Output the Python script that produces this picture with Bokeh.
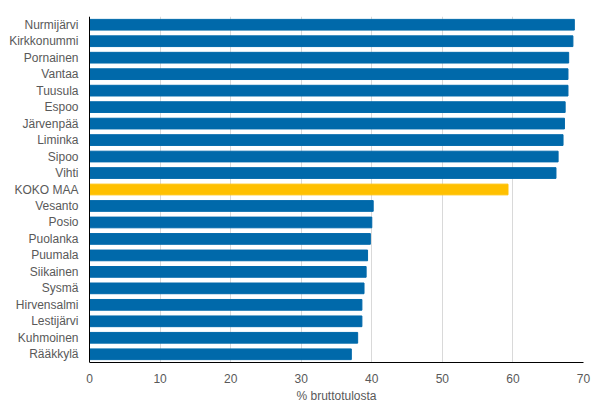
from bokeh.plotting import figure
from bokeh.models import ColumnDataSource, FactorRange, Range1d, LabelSet, Span, Title
from bokeh.core.properties import value
from bokeh.embed import file_html
from bokeh.resources import INLINE

categories = ["Nurmijärvi", "Kirkkonummi", "Pornainen", "Vantaa", "Tuusula", "Espoo",
              "Järvenpää", "Liminka", "Sipoo", "Vihti", "KOKO MAA", "Vesanto", "Posio",
              "Puolanka", "Puumala", "Siikainen", "Sysmä", "Hirvensalmi", "Lestijärvi",
              "Kuhmoinen", "Rääkkylä"]
values = [68.7, 68.5, 67.9, 67.8, 67.8, 67.4, 67.3, 67.1, 66.4, 66.1, 59.3, 40.2, 40.0,
          39.8, 39.4, 39.2, 38.9, 38.6, 38.6, 38.0, 37.1]
x_ticks = [0, 10, 20, 30, 40, 50, 60, 70]
x_label = "% bruttotulosta"

BLUE = "#0069aa"
YELLOW = "#ffc000"
colors = [YELLOW if c == "KOKO MAA" else BLUE for c in categories]

src = ColumnDataSource(dict(cat=categories, val=values, color=colors))

W, H = 605, 416
LEFT_PX, RIGHT_PX = 89, 22
XMAX = 70
scale = (W - RIGHT_PX - LEFT_PX) / XMAX
xmin = -LEFT_PX / scale

p = figure(width=W, height=H, output_backend="svg", toolbar_location=None,
           y_range=FactorRange(*reversed(categories), range_padding=0),
           x_range=Range1d(xmin, XMAX),
           min_border_left=0, min_border_right=RIGHT_PX, min_border_top=16, min_border_bottom=54)
p.hbar(y="cat", right="val", left=0, height=0.65, color="color", source=src)

FONT = "Liberation Sans"
TXT = "#595959"
p.outline_line_color = None
p.ygrid.grid_line_color = None
p.xgrid.grid_line_color = "#d9d9d9"
p.yaxis.visible = False
p.xaxis.ticker = x_ticks
p.xaxis.bounds = (0, XMAX)
p.xaxis.major_tick_line_color = None
p.xaxis.minor_tick_line_color = None
p.xaxis.axis_line_color = "black"
p.xaxis.major_label_text_font = FONT
p.xaxis.major_label_text_font_size = "12px"
p.xaxis.major_label_text_color = TXT
p.xaxis.major_label_standoff = 5

p.add_layout(Title(text=x_label, align="left", offset=296, standoff=2,
                   text_font=FONT, text_font_size="12px", text_font_style="normal",
                   text_color=TXT), "below")

p.add_layout(Span(location=0, dimension="height", line_color="black", line_width=1))

labels = LabelSet(x=0, x_offset=-11, y="cat", text="cat", source=src,
                  text_align="right", text_baseline="middle",
                  text_font=value(FONT), text_font_size=value("12px"), text_color=TXT)
p.add_layout(labels)

open("out.html", "w").write(file_html(p, INLINE))
